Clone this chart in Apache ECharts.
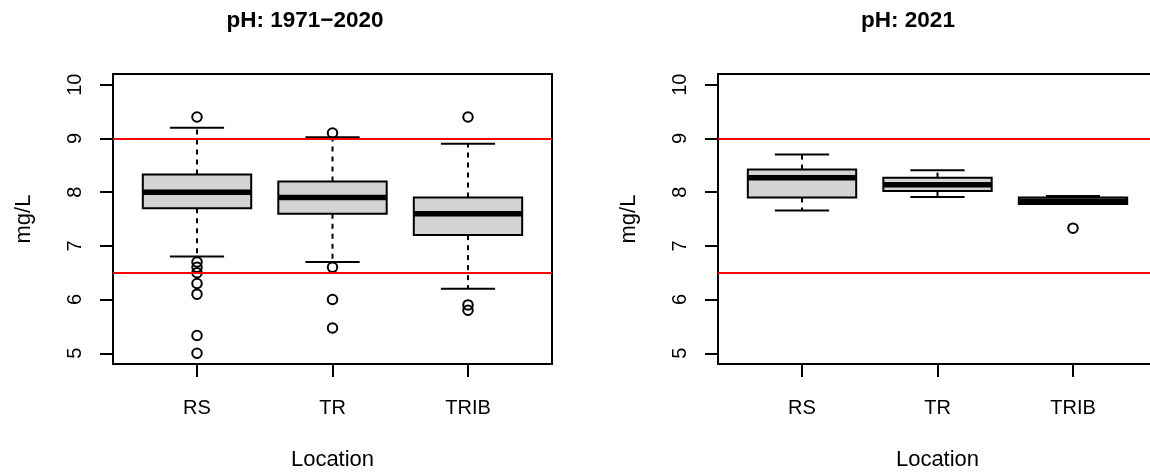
<!DOCTYPE html>
<html>
<head>
<meta charset="utf-8">
<script src="https://cdn.jsdelivr.net/npm/echarts@6/dist/echarts.min.js"></script>
<style>
  html, body { margin: 0; padding: 0; background: #fff; }
  #chart { width: 1150px; height: 474px; }
</style>
</head>
<body>
<div id="chart"></div>
<script>
// ---- data ----
const categories = ['RS', 'TR', 'TRIB'];
const yTicks = [5, 6, 7, 8, 9, 10];
const limits = [6.5, 9];

// pH: 1971-2020
const histLower  = [6.8, 6.7, 6.2];
const histQ1     = [7.7, 7.6, 7.2];
const histMedian = [8.0, 7.9, 7.6];
const histQ3     = [8.33, 8.2, 7.9];
const histUpper  = [9.2, 9.02, 8.9];
const histOutliers = [
  [9.4, 6.7, 6.6, 6.5, 6.3, 6.1, 5.33, 5.0],
  [9.1, 6.6, 6.0, 5.47],
  [9.4, 5.9, 5.8]
];

// pH: 2021
const recentLower  = [7.66, 7.91, 7.78];
const recentQ1     = [7.9, 8.02, 7.78];
const recentMedian = [8.27, 8.14, 7.83];
const recentQ3     = [8.42, 8.27, 7.9];
const recentUpper  = [8.7, 8.41, 7.93];
const recentOutliers = [[], [], [7.33]];

const titles = ['pH: 1971\u22122020', 'pH: 2021'];
const yName = 'mg/L';
const xName = 'Location';

// ---- build ----
const FONT = '"Liberation Sans", Arial, Helvetica, sans-serif';
const chart = echarts.init(document.getElementById('chart'), null, { renderer: 'canvas' });

function boxData(lo, q1, med, q3, hi) {
  return categories.map((c, i) => [i + 1, lo[i], q1[i], med[i], q3[i], hi[i]]);
}
function outlierData(out) {
  const arr = [];
  out.forEach((vals, i) => vals.forEach(v => arr.push([i + 1, v])));
  return arr;
}

function renderBox(params, api) {
  const x = api.value(0);
  const lo = api.value(1), q1 = api.value(2), med = api.value(3), q3 = api.value(4), hi = api.value(5);
  const pLo = api.coord([x, lo]), pQ1 = api.coord([x, q1]), pMed = api.coord([x, med]);
  const pQ3 = api.coord([x, q3]), pHi = api.coord([x, hi]);
  const cx = pMed[0];
  const halfW = api.size([0.8, 0])[0] / 2;
  const capHalf = halfW / 2;
  const black = '#000';
  const children = [];
  if (pHi[1] < pQ3[1]) {
    children.push({ type: 'line', shape: { x1: cx, y1: pQ3[1], x2: cx, y2: pHi[1] },
      style: { stroke: black, lineWidth: 2, lineDash: [5, 5] } });
  }
  if (pLo[1] > pQ1[1]) {
    children.push({ type: 'line', shape: { x1: cx, y1: pQ1[1], x2: cx, y2: pLo[1] },
      style: { stroke: black, lineWidth: 2, lineDash: [5, 5] } });
  }
  children.push({ type: 'line', shape: { x1: cx - capHalf, y1: pHi[1], x2: cx + capHalf, y2: pHi[1] },
    style: { stroke: black, lineWidth: 2 } });
  children.push({ type: 'line', shape: { x1: cx - capHalf, y1: pLo[1], x2: cx + capHalf, y2: pLo[1] },
    style: { stroke: black, lineWidth: 2 } });
  children.push({ type: 'rect', shape: { x: cx - halfW, y: pQ3[1], width: halfW * 2, height: pQ1[1] - pQ3[1] },
    style: { fill: '#D3D3D3', stroke: black, lineWidth: 2 } });
  children.push({ type: 'line', shape: { x1: cx - halfW, y1: pMed[1], x2: cx + halfW, y2: pMed[1] },
    style: { stroke: black, lineWidth: 5.5, lineCap: 'butt' } });
  return { type: 'group', children };
}

const panels = [
  { left: 113, box: boxData(histLower, histQ1, histMedian, histQ3, histUpper), out: outlierData(histOutliers) },
  { left: 718, box: boxData(recentLower, recentQ1, recentMedian, recentQ3, recentUpper), out: outlierData(recentOutliers) }
];

const grids = [], xAxes = [], yAxes = [], series = [], graphics = [];
const titleCenters = [305, 908];

panels.forEach((p, k) => {
  grids.push({ left: p.left, top: 74, width: 439, height: 290, show: true,
    outerBoundsMode: 'none', containLabel: false,
    borderColor: '#000', borderWidth: 2, backgroundColor: 'transparent' });
  xAxes.push({
    gridIndex: k, type: 'value', min: 0.38, max: 3.62,
    name: xName, nameLocation: 'middle', nameGap: 85,
    nameTextStyle: { fontFamily: FONT, fontSize: 22, color: '#000' },
    axisLine: { show: true, lineStyle: { color: '#000', width: 2 } },
    axisTick: { show: true, inside: false, length: 13, lineStyle: { color: '#000', width: 2 },
      customValues: [1, 2, 3] },
    axisLabel: { show: true, margin: 34, fontFamily: FONT, fontSize: 20, color: '#000',
      customValues: [1, 2, 3], formatter: v => categories[Math.round(v) - 1] },
    splitLine: { show: false }
  });
  yAxes.push({
    gridIndex: k, type: 'value', min: 4.8, max: 10.2,
    name: yName, nameLocation: 'middle', nameGap: 78, nameRotate: 90,
    nameTextStyle: { fontFamily: FONT, fontSize: 22, color: '#000' },
    axisLine: { show: true, lineStyle: { color: '#000', width: 2 } },
    axisTick: { show: true, inside: false, length: 13, lineStyle: { color: '#000', width: 2 },
      customValues: yTicks },
    axisLabel: { show: true, rotate: 90, margin: 28, fontFamily: FONT, fontSize: 20, color: '#000',
      customValues: yTicks, formatter: v => String(v) },
    splitLine: { show: false }
  });
  series.push({
    type: 'custom', xAxisIndex: k, yAxisIndex: k, renderItem: renderBox,
    data: p.box, z: 2, clip: false
  });
  series.push({
    type: 'scatter', xAxisIndex: k, yAxisIndex: k, data: p.out,
    symbol: 'circle', symbolSize: 9.5, z: 3,
    itemStyle: { color: 'rgba(0,0,0,0)', borderColor: '#000', borderWidth: 2, opacity: 1 },
    emphasis: { disabled: true }
  });
  series.push({
    type: 'line', xAxisIndex: k, yAxisIndex: k, data: [], z: 10,
    markLine: {
      silent: true, symbol: ['none', 'none'], animation: false,
      label: { show: false },
      lineStyle: { color: '#FF0000', width: 2, type: 'solid' },
      data: limits.map(v => ({ yAxis: v }))
    }
  });
  graphics.push({
    type: 'text', x: titleCenters[k], y: 21,
    style: { text: titles[k], font: 'bold 22.5px ' + FONT, fill: '#000',
      align: 'center', verticalAlign: 'middle' }
  });
});

chart.setOption({
  animation: false,
  backgroundColor: '#fff',
  grid: grids,
  xAxis: xAxes,
  yAxis: yAxes,
  series: series,
  graphic: graphics
});
</script>
</body>
</html>
